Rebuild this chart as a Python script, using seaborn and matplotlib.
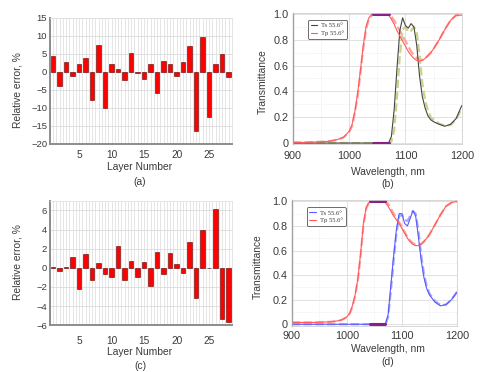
import numpy as np
import pandas as pd
import matplotlib
matplotlib.use("Agg")
import matplotlib.pyplot as plt
from matplotlib.ticker import MultipleLocator
from matplotlib.lines import Line2D
import seaborn as sns

# relative errors per layer
layers = list(range(1, 29))
err_a = [4.3, -3.9, 2.8, -1.2, 2.2, 3.9, -7.7, 7.6, -10.0, 2.3, 0.9, -2.2, 5.3, -0.2,
         -1.9, 2.2, -5.9, 3.0, 2.3, -1.0, 2.7, 7.3, -16.5, 9.6, -12.4, 2.2, 5.1, -1.5]
err_c = [0.1, -0.3, 0.1, 1.1, -2.2, 1.4, -1.3, 0.5, -0.6, -1.0, 2.3, -1.3, 0.7, -1.0,
         0.6, -1.9, 1.6, -0.6, 1.5, 0.4, -0.5, 2.7, -3.2, 4.0, -0.05, 6.1, -5.4, -5.7]

# spectra
wl = [900, 920, 940, 960, 970, 980, 990, 1000, 1005, 1010, 1015, 1020, 1025, 1030, 1035,
      1040, 1045, 1050, 1060, 1065, 1070, 1075, 1080, 1085, 1090, 1095, 1100, 1105, 1110,
      1115, 1120, 1125, 1130, 1135, 1140, 1145, 1150, 1160, 1170, 1180, 1190, 1200]

tp_b = [0.005, 0.005, 0.008, 0.012, 0.018, 0.028, 0.045, 0.09, 0.14, 0.24, 0.38, 0.56, 0.75, 0.90, 0.97,
        0.995, 1.0, 1.0, 1.0, 1.0, 0.99, 0.96, 0.92, 0.87, 0.83, 0.79, 0.75, 0.71, 0.68,
        0.655, 0.64, 0.635, 0.64, 0.655, 0.68, 0.70, 0.73, 0.80, 0.88, 0.95, 0.99, 0.99]
tp_b_fit = [0.005, 0.005, 0.008, 0.012, 0.018, 0.027, 0.043, 0.085, 0.13, 0.23, 0.36, 0.54, 0.73, 0.88, 0.96,
            0.99, 1.0, 1.0, 1.0, 1.0, 1.0, 0.98, 0.95, 0.91, 0.87, 0.83, 0.79, 0.75, 0.71,
            0.68, 0.66, 0.645, 0.645, 0.655, 0.675, 0.70, 0.73, 0.80, 0.88, 0.95, 0.99, 0.99]
ts_b = [0, 0, 0, 0, 0, 0, 0, 0, 0, 0, 0, 0, 0, 0, 0,
        0, 0, 0, 0, 0, 0.0, 0.05, 0.26, 0.58, 0.87, 0.97, 0.91, 0.89, 0.925,
        0.90, 0.76, 0.52, 0.36, 0.27, 0.21, 0.18, 0.165, 0.145, 0.13, 0.145, 0.19, 0.29]
ts_b_fit = [0, 0, 0, 0, 0, 0, 0, 0, 0, 0, 0, 0, 0, 0, 0,
            0, 0, 0, 0, 0, 0.0, 0.01, 0.1, 0.36, 0.68, 0.88, 0.90, 0.86, 0.87,
            0.90, 0.86, 0.68, 0.46, 0.33, 0.25, 0.20, 0.18, 0.15, 0.135, 0.14, 0.18, 0.27]

tp_d = [0.015, 0.015, 0.015, 0.018, 0.02, 0.025, 0.035, 0.06, 0.09, 0.15, 0.24, 0.37, 0.58, 0.82, 0.95,
        0.99, 1.0, 1.0, 1.0, 1.0, 0.99, 0.96, 0.92, 0.88, 0.85, 0.82, 0.78, 0.74, 0.70,
        0.67, 0.65, 0.64, 0.64, 0.65, 0.67, 0.70, 0.73, 0.81, 0.89, 0.96, 0.99, 1.0]
tp_d_fit = [0.015, 0.015, 0.015, 0.018, 0.02, 0.025, 0.034, 0.058, 0.085, 0.14, 0.23, 0.36, 0.56, 0.80, 0.94,
            0.99, 1.0, 1.0, 1.0, 1.0, 1.0, 0.98, 0.94, 0.90, 0.86, 0.83, 0.79, 0.75, 0.71,
            0.68, 0.66, 0.645, 0.645, 0.655, 0.675, 0.70, 0.73, 0.81, 0.89, 0.96, 0.99, 1.0]
ts_d = [0, 0, 0, 0, 0, 0, 0, 0, 0, 0, 0, 0, 0, 0, 0,
        0, 0, 0, 0, 0, 0.0, 0.08, 0.32, 0.56, 0.77, 0.90, 0.90, 0.82, 0.80,
        0.86, 0.925, 0.88, 0.71, 0.52, 0.38, 0.29, 0.24, 0.18, 0.15, 0.16, 0.20, 0.26]
ts_d_fit = [0, 0, 0, 0, 0, 0, 0, 0, 0, 0, 0, 0, 0, 0, 0,
            0, 0, 0, 0, 0, 0.0, 0.06, 0.28, 0.52, 0.74, 0.88, 0.89, 0.85, 0.84,
            0.88, 0.92, 0.90, 0.76, 0.56, 0.41, 0.31, 0.25, 0.19, 0.155, 0.16, 0.20, 0.265]

# target points
target_wl = [1042, 1046, 1050, 1054, 1058, 1062, 1066, 1070]
target_p = [1, 1, 1, 1, 1, 1, 1, 1]
target_s = [0, 0, 0, 0, 0, 0, 0, 0]

sns.set_style("white")
plt.rcParams['font.family'] = ['Liberation Sans', 'DejaVu Sans']
txt = '#3a3a3a'

fig = plt.figure(figsize=(4.8, 3.72), dpi=100)
H = 372.0


def bar_panel(rect, vals, ylim, yticks, xpad):
    ax = fig.add_axes(rect)
    sns.barplot(x=layers, y=vals, native_scale=True, color='#ff0000', saturation=1,
                width=0.7, edgecolor='#5a0000', linewidth=0.4, ax=ax)
    ax.set_xlim(0.5, 28.5)
    ax.set_ylim(*ylim)
    ax.set_xticks([5, 10, 15, 20, 25])
    ax.set_yticks(yticks)
    ax.xaxis.set_minor_locator(MultipleLocator(0.5))
    ax.grid(which='both', axis='x', color='#e0e0e0', lw=0.6)
    ax.grid(which='major', axis='y', color='#dadada', lw=0.6)
    ax.set_axisbelow(True)
    ax.tick_params(which='both', length=0, labelsize=6.8, colors=txt)
    ax.tick_params(axis='x', pad=xpad, labelsize=7.3)
    ax.tick_params(axis='y', pad=2)
    for s in ['top', 'right']:
        ax.spines[s].set_color('#e0e0e0')
        ax.spines[s].set_linewidth(0.6)
    for s in ['left', 'bottom']:
        ax.spines[s].set_color('#8c8c8c')
        ax.spines[s].set_linewidth(1.4)
    return ax


def spec_panel(rect, tp, tp_fit, ts, ts_fit, ts_col, ts_fit_col, xpad):
    ax = fig.add_axes(rect)
    sns.lineplot(x=wl, y=tp_fit, color='#ffa0a0', lw=1.6, linestyle='--', ax=ax, sort=False)
    sns.lineplot(x=wl, y=ts_fit, color=ts_fit_col, lw=1.6, linestyle='--', ax=ax, sort=False)
    sns.lineplot(x=wl, y=ts, color=ts_col, lw=0.8, ax=ax, sort=False)
    sns.lineplot(x=wl, y=tp, color='#ff5a5a', lw=0.8, ax=ax, sort=False)
    sns.lineplot(x=target_wl, y=target_p, color='#8a1f8a', lw=2.2, ax=ax, sort=False)
    sns.lineplot(x=target_wl, y=target_s, color='#8a1f8a', lw=2.2, ax=ax, sort=False)
    ax.set_xlim(900, 1200)
    ax.set_ylim(-0.01, 1.01)
    ax.set_xticks([900, 1000, 1100, 1200])
    ax.set_yticks([0, 0.2, 0.4, 0.6, 0.8, 1.0])
    ax.set_yticklabels(['0', '0.2', '0.4', '0.6', '0.8', '1.0'])
    ax.xaxis.set_minor_locator(MultipleLocator(50))
    ax.yaxis.set_minor_locator(MultipleLocator(0.1))
    ax.grid(which='major', color='#dcdcdc', lw=0.6)
    ax.grid(which='minor', color='#e4e4e4', lw=0.5, linestyle=':')
    ax.tick_params(which='both', length=0, labelsize=7.8, colors=txt)
    ax.tick_params(axis='x', pad=xpad)
    ax.tick_params(axis='y', pad=3)
    for s in ax.spines.values():
        s.set_color('#d0d0d0')
        s.set_linewidth(0.6)
    ax.spines['left'].set_color('#a0a0a0')
    ax.spines['left'].set_linewidth(1.0)
    handles = [Line2D([], [], color=ts_col, lw=0.8), Line2D([], [], color='#ff5a5a', lw=0.8)]
    leg = ax.legend(handles, ['Ts 55.6\u00b0', 'Tp 55.6\u00b0'], loc='upper left',
                    bbox_to_anchor=(0.07, 0.97), prop={'family': 'Liberation Serif', 'size': 4.8},
                    frameon=True, fancybox=True, handlelength=1.0, handletextpad=0.6,
                    borderpad=0.4, labelspacing=0.3, framealpha=1)
    leg.get_frame().set_edgecolor('#555555')
    leg.get_frame().set_linewidth(0.6)
    for t in leg.get_texts():
        t.set_color(txt)
    return ax


bar_panel([0.104, 0.613, 0.379, 0.339], err_a, (-20, 15), [-20, -15, -10, -5, 0, 5, 10, 15], 4.0)
spec_panel([0.610, 0.612, 0.352, 0.354], tp_b, tp_b_fit, ts_b, ts_b_fit, '#454545', '#c9d38c', 5.0)
bar_panel([0.104, 0.126, 0.379, 0.334], err_c, (-6, 7), [-6, -4, -2, 0, 2, 4, 6], 8.0)
spec_panel([0.608, 0.125, 0.344, 0.337], tp_d, tp_d_fit, ts_d, ts_d_fit, '#5a5aff', '#a8a8ff', 4.0)

lab = dict(color=txt, fontsize=7.4, ha='center', va='center')
fig.text(18 / 480, 1 - 90 / H, 'Relative error, %', rotation=90, **lab)
fig.text(140 / 480, 1 - 167 / H, 'Layer Number', **lab)
fig.text(140 / 480, 1 - 182 / H, '(a)', **lab)
fig.text(263 / 480, 1 - 82 / H, 'Transmittance', rotation=90, **lab)
fig.text(388 / 480, 1 - 172 / H, 'Wavelength, nm', **lab)
fig.text(388 / 480, 1 - 184 / H, '(b)', **lab)
fig.text(18 / 480, 1 - 262 / H, 'Relative error, %', rotation=90, **lab)
fig.text(140 / 480, 1 - 352 / H, 'Layer Number', **lab)
fig.text(140 / 480, 1 - 366 / H, '(c)', **lab)
fig.text(258 / 480, 1 - 267 / H, 'Transmittance', rotation=90, **lab)
fig.text(388 / 480, 1 - 349 / H, 'Wavelength, nm', **lab)
fig.text(388 / 480, 1 - 362 / H, '(d)', **lab)

fig.savefig('out.png', dpi=100)
